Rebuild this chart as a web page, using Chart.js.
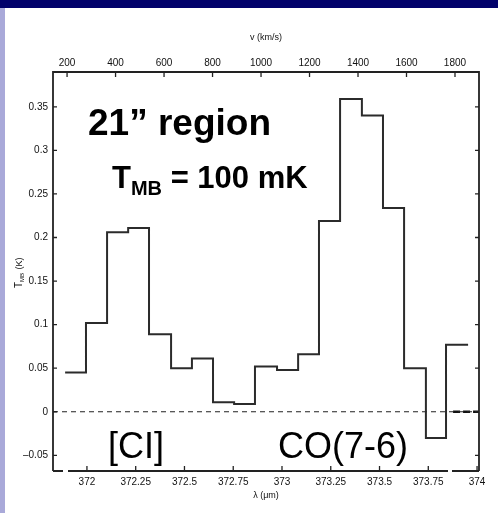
<!DOCTYPE html>
<html>
<head>
<meta charset="utf-8">
<script src="https://cdn.jsdelivr.net/npm/chart.js@4.4.1/dist/chart.umd.min.js"></script>
<style>
  html, body { margin: 0; padding: 0; background: #fff; }
  #wrap { width: 498px; height: 513px; position: relative; }
</style>
</head>
<body>
<div id="wrap"><canvas id="spec"></canvas></div>
<script>
// channel edges in velocity (km/s) and main-beam temperature per channel (K)
const EDGES_KMS = [192, 278, 365, 452, 538, 629, 715, 802, 889, 975, 1066,
  1153, 1239, 1326, 1416, 1503, 1590, 1680, 1763, 1854];
const T_MB = [0.045, 0.102, 0.206, 0.211, 0.089, 0.050, 0.061, 0.011, 0.009,
  0.052, 0.048, 0.066, 0.219, 0.359, 0.340, 0.234, 0.050, -0.030, 0.077];

// axis ticks
const VEL_TICKS = [200, 400, 600, 800, 1000, 1200, 1400, 1600, 1800];
const LAMBDA_TICKS = [372, 372.25, 372.5, 372.75, 373, 373.25, 373.5, 373.75, 374];
const T_TICKS = [-0.05, 0, 0.05, 0.1, 0.15, 0.2, 0.25, 0.3, 0.35];

// axis ranges
const VEL_RANGE = [142, 1899];
const LAMBDA_RANGE = [371.826, 374.01];
const T_RANGE = [-0.068, 0.39];

const FONT = '"Liberation Sans", Arial, sans-serif';
const INK = "#111";

// histogram outline: each bin holds its value until the next edge
const stepPoints = EDGES_KMS.map((v, i) => ({
  x: v,
  y: T_MB[Math.min(i, T_MB.length - 1)],
}));

// zero baseline, heavier dashes near the right edge
const zeroLine = [
  { x: VEL_RANGE[0], y: 0 },
  { x: VEL_RANGE[1], y: 0 },
];
const zeroLineEnd = [
  { x: 1792, y: 0 },
  { x: VEL_RANGE[1], y: 0 },
];

function fixTicks(list) {
  return (scale) => {
    scale.ticks = list.map((v) => ({ value: v }));
  };
}

function fmtT(v) {
  if (v < 0) return "\u2013" + String(Math.abs(v));
  return String(v);
}

// page background: dark bar on top, pale strip on the left
const backdrop = {
  id: "backdrop",
  beforeDraw(chart) {
    const { ctx, width, height } = chart;
    ctx.save();
    ctx.fillStyle = "#fff";
    ctx.fillRect(0, 0, width, height);
    ctx.fillStyle = "#02026b";
    ctx.fillRect(0, 0, width, 8);
    ctx.fillStyle = "#a9a9d9";
    ctx.fillRect(0, 8, 5, height - 8);
    ctx.restore();
  },
};

// box around the plot with inward tick marks
const frame = {
  id: "frame",
  afterDatasetsDraw(chart) {
    const { ctx, chartArea: a, scales } = chart;
    ctx.save();
    ctx.strokeStyle = "#222";
    ctx.lineWidth = 1.8;
    ctx.beginPath();
    ctx.moveTo(a.left, a.bottom);
    ctx.lineTo(a.left, a.top);
    ctx.lineTo(a.right, a.top);
    ctx.lineTo(a.right, a.bottom);
    // bottom edge has two small breaks
    ctx.moveTo(a.right, a.bottom);
    ctx.lineTo(a.right - 27, a.bottom);
    ctx.moveTo(a.right - 31, a.bottom);
    ctx.lineTo(a.left + 15, a.bottom);
    ctx.moveTo(a.left + 10, a.bottom);
    ctx.lineTo(a.left, a.bottom);
    ctx.stroke();

    ctx.lineWidth = 1.3;
    ctx.beginPath();
    VEL_TICKS.forEach((v) => {
      const px = scales.x.getPixelForValue(v);
      ctx.moveTo(px, a.top);
      ctx.lineTo(px, a.top + 5);
    });
    LAMBDA_TICKS.forEach((v) => {
      const px = scales.lam.getPixelForValue(v);
      ctx.moveTo(px, a.bottom);
      ctx.lineTo(px, a.bottom - 5);
    });
    T_TICKS.forEach((v) => {
      const py = scales.y.getPixelForValue(v);
      ctx.moveTo(a.left, py);
      ctx.lineTo(a.left + 4, py);
      ctx.moveTo(a.right, py);
      ctx.lineTo(a.right - 4, py);
    });
    ctx.stroke();
    ctx.restore();
  },
};

// y title with subscript, and the labels inside the plot
const labels = {
  id: "labels",
  afterDraw(chart) {
    const { ctx } = chart;
    ctx.save();
    ctx.fillStyle = "#000";
    ctx.textBaseline = "alphabetic";

    // T_MB (K), rotated
    ctx.save();
    ctx.translate(22, 288);
    ctx.rotate(-Math.PI / 2);
    ctx.font = "10px " + FONT;
    ctx.fillStyle = INK;
    ctx.fillText("T", 0, 0);
    let w = ctx.measureText("T").width;
    ctx.font = "6px " + FONT;
    ctx.fillText("MB", w, 2);
    w += ctx.measureText("MB").width;
    ctx.font = "9px " + FONT;
    ctx.fillText(" (K)", w + 1, 0);
    ctx.restore();

    ctx.font = "bold 37px " + FONT;
    ctx.fillText("21\u201d region", 88, 135);

    ctx.font = "bold 31px " + FONT;
    ctx.fillText("T", 112, 188);
    let x = 112 + ctx.measureText("T").width;
    ctx.font = "bold 20px " + FONT;
    ctx.fillText("MB", x, 195);
    x += ctx.measureText("MB").width;
    ctx.font = "bold 31px " + FONT;
    ctx.fillText(" = 100 mK", x, 188);

    ctx.font = "36px " + FONT;
    ctx.fillText("[CI]", 108, 458);
    ctx.fillText("CO(7-6)", 278, 458);
    ctx.restore();
  },
};

const tickFont = { family: FONT, size: 10 };

new Chart(document.getElementById("spec"), {
  type: "line",
  data: {
    datasets: [
      {
        data: stepPoints,
        xAxisID: "x",
        yAxisID: "y",
        stepped: "before",
        borderColor: "#2b2b2b",
        borderWidth: 2,
        pointRadius: 0,
        fill: false,
      },
      {
        data: zeroLine,
        xAxisID: "x",
        yAxisID: "y",
        borderColor: "#222",
        borderWidth: 1.2,
        borderDash: [5, 4],
        pointRadius: 0,
        fill: false,
      },
      {
        data: zeroLineEnd,
        xAxisID: "x",
        yAxisID: "y",
        borderColor: "#111",
        borderWidth: 2.5,
        borderDash: [7, 3],
        pointRadius: 0,
        fill: false,
      },
    ],
  },
  options: {
    responsive: true,
    maintainAspectRatio: false,
    animation: false,
    layout: { padding: { left: 0, top: 0, right: 19, bottom: 0 } },
    plugins: {
      legend: { display: false },
      tooltip: { enabled: false },
    },
    scales: {
      x: {
        type: "linear",
        position: "top",
        min: VEL_RANGE[0],
        max: VEL_RANGE[1],
        afterBuildTicks: fixTicks(VEL_TICKS),
        afterFit: (s) => { s.height = 72; },
        grid: { display: false, drawTicks: false },
        border: { display: false },
        ticks: {
          font: tickFont,
          color: INK,
          padding: 3,
          maxRotation: 0,
          callback: (v) => String(v),
        },
        title: {
          display: true,
          text: "v (km/s)",
          font: { family: FONT, size: 9 },
          color: INK,
          padding: { top: 32, bottom: 0 },
        },
      },
      lam: {
        type: "linear",
        position: "bottom",
        min: LAMBDA_RANGE[0],
        max: LAMBDA_RANGE[1],
        afterBuildTicks: fixTicks(LAMBDA_TICKS),
        afterFit: (s) => { s.height = 42; },
        grid: { display: false, drawTicks: false },
        border: { display: false },
        ticks: {
          font: tickFont,
          color: INK,
          padding: 5,
          maxRotation: 0,
          callback: (v) => String(v),
        },
        title: {
          display: true,
          text: "\u03bb (\u03bcm)",
          font: { family: FONT, size: 9 },
          color: INK,
          padding: { top: 0, bottom: 12 },
        },
      },
      y: {
        type: "linear",
        position: "left",
        min: T_RANGE[0],
        max: T_RANGE[1],
        afterBuildTicks: fixTicks(T_TICKS),
        afterFit: (s) => { s.width = 53; },
        grid: { display: false, drawTicks: false },
        border: { display: false },
        ticks: { font: tickFont, color: INK, padding: 5, callback: fmtT },
      },
    },
  },
  plugins: [backdrop, frame, labels],
});
</script>
</body>
</html>
